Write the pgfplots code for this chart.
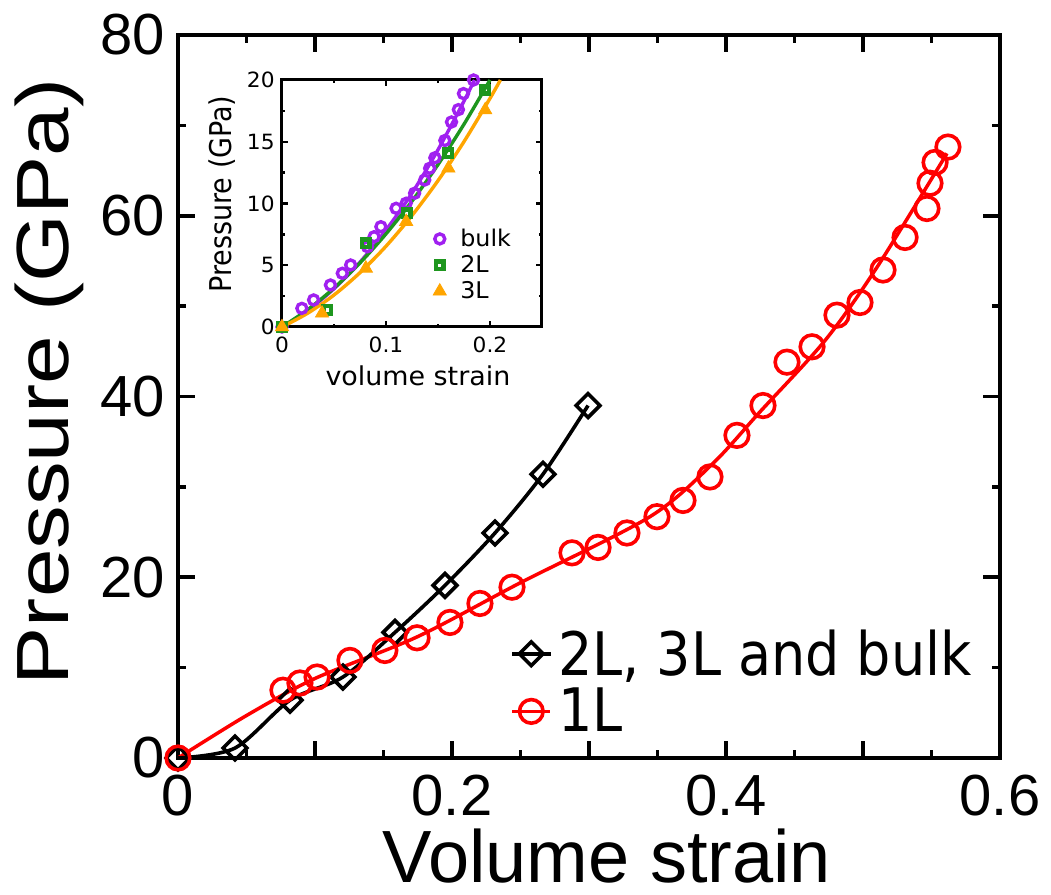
\documentclass[border=0pt]{standalone}
\usepackage{fontspec}
\setmainfont{Liberation Sans}
\newfontfamily\ylfont[FakeStretch=1.18]{Liberation Sans}
\newfontfamily\tfont{DejaVu Sans Condensed}
\newfontfamily\insetfont[FakeStretch=1.15]{DejaVu Sans Condensed}
\usepackage{pgfplots}
\pgfplotsset{compat=1.18}
\definecolor{bulkc}{RGB}{160,32,240}
\definecolor{twoc}{RGB}{30,150,30}
\definecolor{threec}{RGB}{255,165,0}
\begin{document}
\begin{tikzpicture}
\useasboundingbox (-89pt,-68.5pt) rectangle (436.5pt,379pt);
\begin{axis}[
  at={(0pt,0pt)}, anchor=south west, scale only axis,
  width=411pt, height=361.5pt,
  xmin=0, xmax=0.6, ymin=0, ymax=80,
  clip mode=individual,
  axis line style={line width=2pt},
  every tick/.style={black, line width=1.8pt},
  tick align=inside,
  major tick length=8.5pt, minor tick length=4pt,
  xtick={0,0.1,0.2,0.3,0.4,0.5,0.6},
  xticklabels={0,,0.2,,0.4,,0.6},
  minor x tick num=1,
  ytick={0,20,40,60,80},
  minor y tick num=1,
  /pgf/number format/assume math mode=true,
  tick label style={font=\fontsize{29}{29}\selectfont},
  xticklabel style={inner sep=0pt, anchor=north, yshift=-8.5pt},
  yticklabel style={inner sep=0pt, anchor=east, xshift=-6.5pt},
  xlabel={Volume strain},
  ylabel={Pressure (GPa)},
  xlabel style={font=\fontsize{37}{37}\selectfont, at={(axis description cs:0.522,-0.172)}, anchor=base},
  ylabel style={font=\ylfont\fontsize{37}{37}\selectfont, at={(axis description cs:-0.156,0.52)}, anchor=center},
  legend style={draw=none, fill=none, inner sep=0pt,
    nodes={inner sep=1pt},
    font=\tfont\fontsize{30}{30}\selectfont,
    at={(axis description cs:0.404,0.105)}, anchor=west,
    row sep=3pt,
    /tikz/every odd column/.append style={column sep=2pt}},
  legend cell align=left,
]
\addplot[red, line width=1.75pt, smooth, forget plot] coordinates {
(0,0) (0.05,4.7) (0.1,8.8) (0.1745,13.4) (0.25,19.4) (0.3445,26.7) (0.3905,32.6) (0.4248,38.3) (0.4723,46.2) (0.5102,54.3) (0.5613,66.9)};
\addplot[black, line width=1.8pt, smooth, mark=square, mark size=4.2pt,
  mark options={rotate=45, solid, line width=1.8pt},
  legend image code/.code={\draw[mark repeat=2,mark phase=2] plot coordinates {(0pt,0pt)(9.5pt,0pt)(19pt,0pt)};}]
coordinates {
(0,0) (0.0416,1.1) (0.0818,6.4) (0.1204,8.96) (0.1584,13.9) (0.1949,19.1) (0.2314,24.9) (0.2664,31.4) (0.2993,39.0)};
\addlegendentry{2L, 3L and bulk}
\addplot[red, line width=1.8pt, only marks, mark=o, mark size=5.9pt,
  legend image code/.code={\draw[red, line width=1.8pt] (0pt,0pt)--(19pt,0pt); \draw[red, line width=1.8pt, mark=o, mark size=5.9pt, only marks] plot coordinates {(9.5pt,0pt)};}]
coordinates {
(0,0) (0.0766,7.5) (0.089,8.3) (0.1015,8.96) (0.1255,10.8) (0.151,11.9) (0.1745,13.3) (0.1985,15.0) (0.2204,17.1) (0.2438,18.9) (0.2876,22.7) (0.3066,23.3) (0.3277,24.9) (0.3496,26.7) (0.3686,28.5) (0.3883,31.1) (0.408,35.7) (0.427,39.0) (0.4445,43.8) (0.4628,45.5) (0.481,49.0) (0.4978,50.4) (0.5146,54.0) (0.5307,57.6) (0.5467,60.8) (0.5489,63.6) (0.5526,65.9) (0.562,67.6)};
\addlegendentry{1L}
\end{axis}
\begin{axis}[
  at={(52pt,215.5pt)}, anchor=south west, scale only axis,
  width=130pt, height=123.5pt,
  xmin=0, xmax=0.25, ymin=0, ymax=20,
  clip mode=individual,
  axis background/.style={fill=white},
  axis line style={line width=1.5pt},
  every tick/.style={black, line width=1.2pt},
  tick align=inside,
  major tick length=2.8pt, minor tick length=1.6pt,
  xtick={0,0.1,0.2}, xticklabels={0,0.1,0.2},
  minor x tick num=1,
  ytick={0,5,10,15,20},
  minor y tick num=1,
  /pgf/number format/assume math mode=true,
  tick label style={font=\insetfont\fontsize{10.5}{10.5}\selectfont},
  xticklabel style={inner sep=0pt, anchor=north, yshift=-5pt},
  yticklabel style={inner sep=0pt, anchor=east, xshift=-3.5pt},
  xlabel={volume strain},
  ylabel={Pressure (GPa)},
  xlabel style={font=\insetfont\fontsize{13}{13}\selectfont, at={(axis description cs:0.523,-0.235)}, anchor=base},
  ylabel style={font=\tfont\fontsize{15}{15}\selectfont, at={(axis description cs:-0.232,0.538)}, anchor=center},
  legend style={draw=none, fill=none, inner sep=0pt,
    nodes={inner sep=1pt},
    font=\insetfont\fontsize{11.5}{11.5}\selectfont,
    at={(axis description cs:0.58,0.251)}, anchor=west,
    row sep=1pt,
    /tikz/every odd column/.append style={column sep=6pt}},
  legend cell align=left,
  legend image code/.code={\draw plot coordinates {(0pt,0pt)};},
]
\addplot[bulkc, line width=1.7pt, smooth, forget plot] coordinates {
(0,0) (0.025,1.35) (0.05,3.1) (0.075,5.25) (0.1,7.85) (0.125,10.84) (0.15,14.35) (0.175,18.29) (0.185,20.0)};
\addplot[twoc, line width=1.7pt, smooth, forget plot] coordinates {
(0,0) (0.025,1.42) (0.05,3.15) (0.075,5.19) (0.1,7.54) (0.125,10.19) (0.15,13.15) (0.175,16.42) (0.2,20.0)};
\addplot[threec, line width=1.7pt, smooth, forget plot] coordinates {
(0,0) (0.025,1.13) (0.05,2.59) (0.075,4.40) (0.1,6.54) (0.125,9.03) (0.15,11.85) (0.175,15.01) (0.2,18.51) (0.21,20.0)};
\addplot[bulkc, only marks, mark=o, mark size=2.5pt, mark options={line width=1.7pt}] coordinates {
(0,0) (0.0191,1.51) (0.0304,2.19) (0.0466,3.40) (0.058,4.35) (0.066,5.02) (0.0822,6.50) (0.0886,7.31) (0.0951,8.12) (0.1097,9.61) (0.1194,10.02) (0.1275,10.83) (0.1372,11.9) (0.142,12.85) (0.147,13.7) (0.1566,15.1) (0.163,16.6) (0.1696,17.6) (0.1745,18.9) (0.1842,20.0)};
\addlegendentry{bulk}
\addplot[twoc, only marks, mark=square, mark size=1.9pt, mark options={line width=2.2pt}] coordinates {
(0,0) (0.0434,1.38) (0.0806,6.78) (0.120,9.2) (0.160,14.06) (0.1954,19.2)};
\addlegendentry{2L}
\addplot[threec, only marks, mark=triangle*, mark size=3.8pt] coordinates {
(0,0) (0.0385,1.11) (0.0806,4.75) (0.1194,8.53) (0.160,12.85) (0.1954,17.57)};
\addlegendentry{3L}
\end{axis}
\end{tikzpicture}
\end{document}
